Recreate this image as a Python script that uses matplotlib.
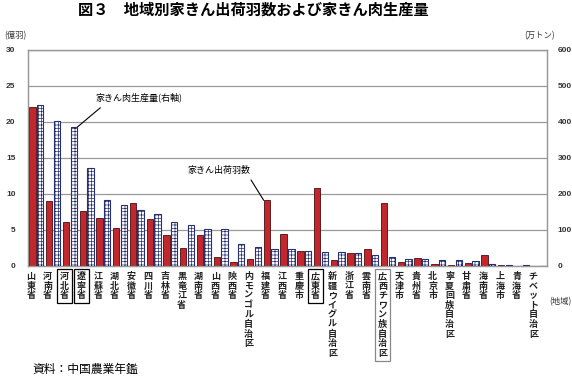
import matplotlib
matplotlib.use("Agg")
import matplotlib.pyplot as plt
import matplotlib.transforms as mtransforms

plt.rcParams['font.family'] = ['Noto Sans CJK JP', 'DejaVu Sans']
plt.rcParams['hatch.linewidth'] = 0.5

regions = ["山東省", "河南省", "河北省", "遼寧省", "江蘇省", "湖北省", "安徽省", "四川省",
           "吉林省", "黒竜江省", "湖南省", "山西省", "陝西省", "内モンゴル自治区", "福建省",
           "江西省", "重慶市", "広東省", "新疆ウイグル自治区", "浙江省", "雲南省",
           "広西チワン族自治区", "天津市", "貴州省", "北京市", "寧夏回族自治区", "甘粛省",
           "海南省", "上海市", "青海省", "チベット自治区"]
shipments = [22.0, 9.0, 6.05, 7.6, 6.6, 5.2, 8.7, 6.45, 4.25, 2.45, 4.25, 1.2, 0.55, 0.95,
             9.1, 4.4, 2.1, 10.8, 0.85, 1.75, 2.3, 8.7, 0.55, 1.05, 0.25, 0.1, 0.4, 1.5,
             0.15, 0.03, 0.01]
meat = [445, 402, 384, 271, 182, 168, 154, 144, 121, 113, 102, 102, 61, 52, 46, 46, 42,
        38, 38, 35, 30, 24, 18.5, 18.5, 16, 16, 13, 4.6, 2.8, 2.8, 0.5]
boxed_black = ["河北省", "遼寧省", "広東省"]
boxed_gray = ["広西チワン族自治区"]
left_ticks = [0, 5, 10, 15, 20, 25, 30]
right_ticks = [0, 100, 200, 300, 400, 500, 600]

fig = plt.figure(figsize=(5.72, 3.76), dpi=100)
ax = fig.add_axes([28/572, 1-266/376, (547-28)/572, (266-49.5)/376])
ax2 = ax.twinx()

x = list(range(len(regions)))
red = "#c1272d"
navy = "#26306e"
ax.bar([i - 0.23 for i in x], shipments, width=0.38, color=red, edgecolor="#4a0c0c",
       linewidth=0.6, zorder=3)
ax2.bar([i + 0.23 for i in x], meat, width=0.38, color="white", edgecolor=navy,
        hatch="+++++", linewidth=0.8, zorder=3)

ax.set_xlim(-0.5, len(regions) - 0.5)
ax.set_ylim(0, 30)
ax2.set_ylim(0, 600)
ax.set_yticks(left_ticks)
ax2.set_yticks(right_ticks)
ax.set_xticks([])
ax.grid(axis='y', color="#999999", linewidth=0.9, zorder=0)
ax.set_axisbelow(True)
for a in (ax, ax2):
    for s in a.spines.values():
        s.set_color("#999999")
        s.set_linewidth(0.9)
ax.tick_params(axis='y', length=0, pad=9, labelsize=6)
ax2.tick_params(axis='y', length=0, pad=7.5, labelsize=6)
for lab in ax.get_yticklabels() + ax2.get_yticklabels():
    lab.set_fontweight('bold')
    lab.set_fontfamily('Liberation Sans')
    lab.set_color("#333333")

# x labels (vertical, stacked)
trans = mtransforms.blended_transform_factory(ax.transData, fig.transFigure)
for i, name in enumerate(regions):
    bbox = None
    if name in boxed_black:
        bbox = dict(boxstyle="square,pad=0.35", fc="none", ec="black", lw=0.9)
    elif name in boxed_gray:
        bbox = dict(boxstyle="square,pad=0.35", fc="none", ec="#888888", lw=0.9)
    ax.text(i - 0.32, 1 - 272/376, "\n".join(name), transform=trans, ha='center',
            va='top', fontsize=6.5, fontweight='bold', color="#222222",
            linespacing=1.08, bbox=bbox)

fig.text(4/572, 1 - 36/376, "(億羽)", fontsize=6, va='center', ha='left', color="#333333")
fig.text(555/572, 1 - 36/376, "(万トン)", fontsize=6, va='center', ha='right', color="#333333")
fig.text(560/572, 1 - 302/376, "(地域)", fontsize=6, va='center', ha='center', color="#333333")

fig.text(253/572, 1 - 10/376, "図３　地域別家きん出荷羽数および家きん肉生産量",
         fontsize=11, fontweight='bold', ha='center', va='center')
fig.text(32/572, 1 - 370/376, "資料：中国農業年鑑", fontsize=8.5, ha='left', va='center')

# annotations
ax.annotate("家きん肉生産量(右軸)", xy=(2 + 0.42, meat[2] / 20), xytext=(96/572, 1 - 97/376),
            textcoords='figure fraction', fontsize=6.5, ha='left', va='center',
            arrowprops=dict(arrowstyle='-', color='black', lw=0.8,
                            shrinkA=0, shrinkB=0, relpos=(0.05, -0.6)))
ax.annotate("家きん出荷羽数", xy=(14 - 0.42, shipments[14]), xytext=(188/572, 1 - 170/376),
            textcoords='figure fraction', fontsize=6.5, ha='left', va='center',
            arrowprops=dict(arrowstyle='-', color='black', lw=0.8,
                            shrinkA=0, shrinkB=0, relpos=(1.0, -0.6)))

fig.savefig("out.png", dpi=100)
